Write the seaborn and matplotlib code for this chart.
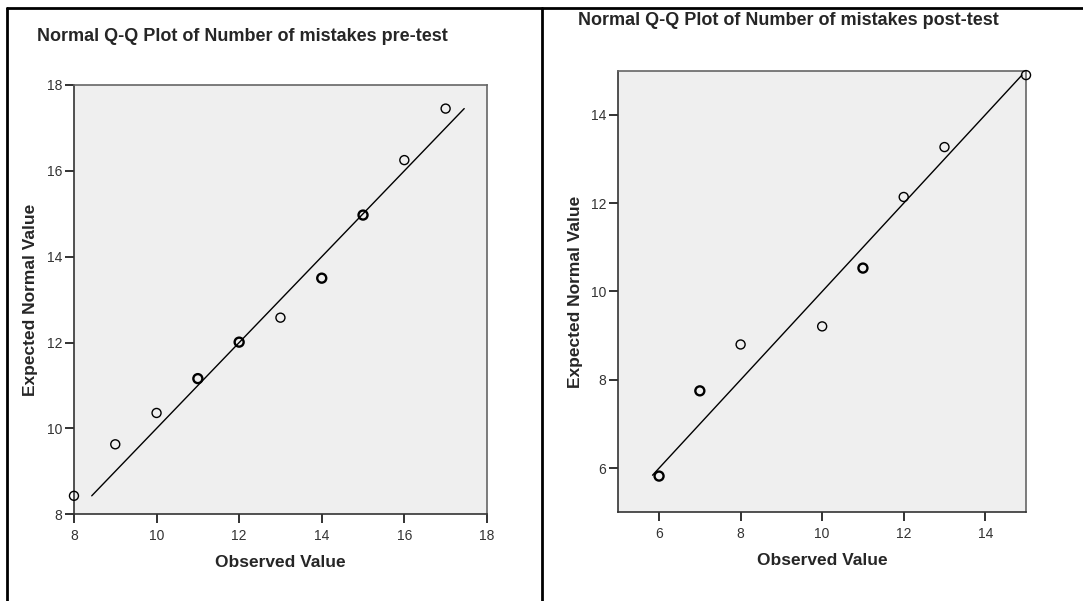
import matplotlib
matplotlib.use("Agg")
import matplotlib.pyplot as plt
import seaborn as sns
import pandas as pd
from matplotlib.lines import Line2D

# ---- data ----
pre_observed = [8, 9, 10, 11, 12, 13, 14, 15, 16, 17]
pre_expected = [8.43, 9.63, 10.36, 11.16, 12.01, 12.58, 13.50, 14.97, 16.25, 17.45]
pre_ties = [1, 1, 1, 2, 2, 1, 2, 2, 1, 1]
pre_line = [8.43, 17.45]

post_observed = [6, 7, 8, 10, 11, 12, 13, 15]
post_expected = [5.82, 7.75, 8.80, 9.21, 10.53, 12.14, 13.27, 14.90]
post_ties = [2, 2, 1, 1, 2, 1, 1, 1]
post_line = [5.84, 14.90]

pre_xticks = [8, 10, 12, 14, 16, 18]
pre_yticks = [8, 10, 12, 14, 16, 18]
post_xticks = [6, 8, 10, 12, 14]
post_yticks = [6, 8, 10, 12, 14]

titles = ["Normal Q-Q Plot of Number of mistakes pre-test",
          "Normal Q-Q Plot of Number of mistakes post-test"]
xlabel = "Observed Value"
ylabel = "Expected Normal Value"

sns.set_theme(style="white")
plt.rcParams['font.family'] = ['Liberation Sans', 'DejaVu Sans']

fig = plt.figure(figsize=(10.83, 6.01), dpi=100)
fig.patch.set_facecolor("white")

ax1 = fig.add_axes([0.0683, 0.1443, 0.3813, 0.7143])
ax2 = fig.add_axes([0.5709, 0.1476, 0.3765, 0.7348])

panels = [
    (ax1, pre_observed, pre_expected, pre_ties, pre_line, pre_xticks, pre_yticks, (8, 18), (8, 18)),
    (ax2, post_observed, post_expected, post_ties, post_line, post_xticks, post_yticks, (5, 15), (5, 15)),
]

for ax, obs, exp, ties, ln, xt, yt, xl, yl in panels:
    ax.set_facecolor("#EFEFEF")
    df = pd.DataFrame({"obs": obs, "exp": exp, "ties": ties})
    ldf = pd.DataFrame({"x": ln, "y": ln})
    sns.lineplot(data=ldf, x="x", y="y", ax=ax, color="black", linewidth=1.0, zorder=2)
    single = df[df["ties"] == 1]
    multi = df[df["ties"] > 1]
    sns.scatterplot(data=single, x="obs", y="exp", ax=ax, s=42, marker="o",
                    facecolor="none", edgecolor="black", linewidth=1.0, zorder=3, clip_on=False)
    sns.scatterplot(data=multi, x="obs", y="exp", ax=ax, s=42, marker="o",
                    facecolor="none", edgecolor="black", linewidth=1.7, zorder=3, clip_on=False)
    ax.set_xlim(*xl)
    ax.set_ylim(*yl)
    ax.set_xticks(xt)
    ax.set_yticks(yt)
    ax.set_xticklabels([str(v) for v in xt])
    ax.set_yticklabels([str(v) for v in yt])
    ax.tick_params(axis="both", which="major", direction="out", length=6.5, width=1.3,
                   color="#222222", labelsize=10, labelcolor="#333333",
                   bottom=True, left=True)
    ax.tick_params(axis="x", pad=4)
    ax.tick_params(axis="y", pad=2)
    for side in ["top", "right"]:
        ax.spines[side].set_color("#666666")
        ax.spines[side].set_linewidth(1.2)
    for side in ["left", "bottom"]:
        ax.spines[side].set_color("#333333")
        ax.spines[side].set_linewidth(1.2)
    ax.set_xlabel(xlabel, fontsize=12.5, fontweight="bold", labelpad=9)
    ax.set_ylabel(ylabel, fontsize=12.5, fontweight="bold", labelpad=6)

fig.text(37 / 1083, 1 - 41 / 601, titles[0], fontsize=13, fontweight="bold", va="baseline", ha="left")
fig.text(578 / 1083, 1 - 25 / 601, titles[1], fontsize=13, fontweight="bold", va="baseline", ha="left")

# outer frame lines
fig.add_artist(Line2D([7 / 1083, 1.0], [1 - 8 / 601, 1 - 8 / 601], color="black", linewidth=2, transform=fig.transFigure))
fig.add_artist(Line2D([7 / 1083, 7 / 1083], [0, 1 - 8 / 601], color="black", linewidth=2, transform=fig.transFigure))
fig.add_artist(Line2D([542 / 1083, 542 / 1083], [0, 1 - 8 / 601], color="black", linewidth=2, transform=fig.transFigure))

fig.savefig("out.png", dpi=100)
